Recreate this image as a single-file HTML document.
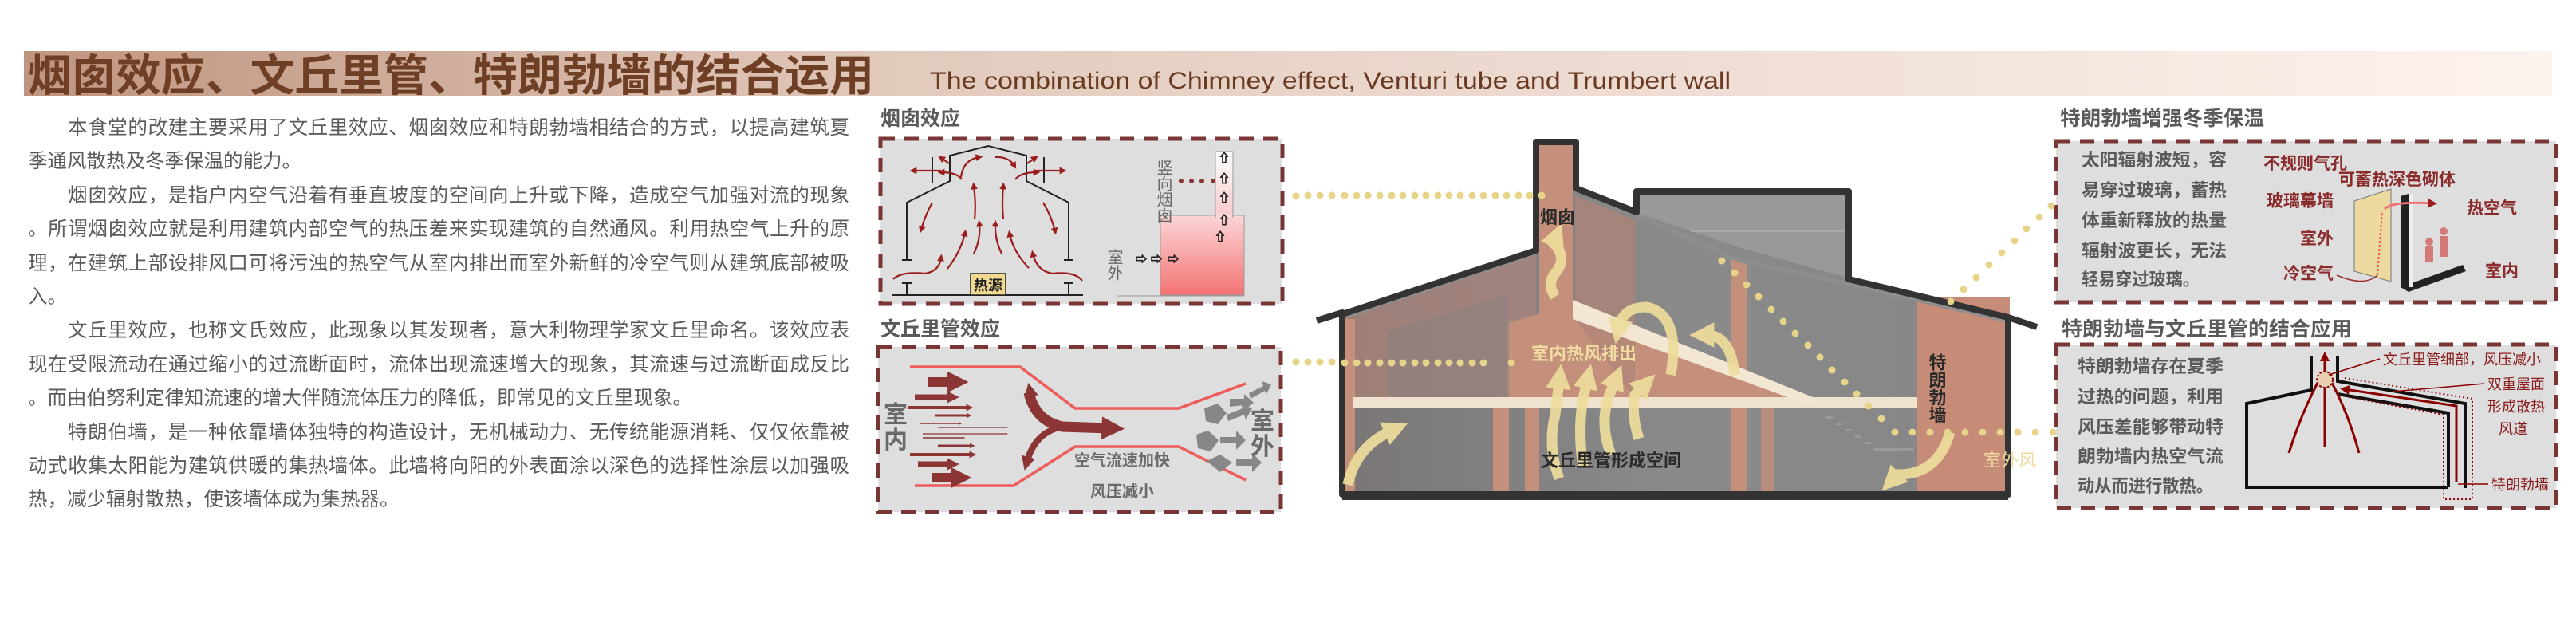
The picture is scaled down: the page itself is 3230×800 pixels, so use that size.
<!DOCTYPE html>
<html><head><meta charset="utf-8"><style>
html,body{margin:0;padding:0;background:#fff;}
#wrap{position:relative;width:3230px;height:800px;overflow:hidden;background:#fff;font-family:"Liberation Sans","Noto Sans CJK SC",sans-serif;}
svg{position:absolute;left:0;top:0;}
.para{position:absolute;left:35px;top:140px;width:1030px;font-size:24.5px;line-height:42.4px;color:#5a5a5a;font-family:"Liberation Sans","Noto Sans CJK SC",sans-serif;}
.para div{white-space:nowrap;overflow:hidden;text-align:justify;text-align-last:justify;}
.para div.s{text-align-last:left;}
.ind{padding-left:50px;}
</style></head><body><div id="wrap">
<svg width="3230" height="800" viewBox="0 0 3230 800" font-family="Liberation Sans, Noto Sans CJK SC, sans-serif">
<defs>
<linearGradient id="tb" x1="0" x2="1" y1="0" y2="0"><stop offset="0" stop-color="#c09580"/><stop offset="0.35" stop-color="#e2cabd"/><stop offset="1" stop-color="#fdf3ee"/></linearGradient>
<linearGradient id="pk" x1="0" x2="0" y1="0" y2="1"><stop offset="0" stop-color="#fbd6d8"/><stop offset="1" stop-color="#f47374"/></linearGradient>
<linearGradient id="pk2" x1="0" x2="0" y1="0" y2="1"><stop offset="0" stop-color="#ffffff"/><stop offset="1" stop-color="#f9c9cc"/></linearGradient>
<linearGradient id="gr" x1="0" x2="1" y1="0" y2="0"><stop offset="0" stop-color="#7a7676"/><stop offset="0.5" stop-color="#8a8a8a"/><stop offset="1" stop-color="#868686"/></linearGradient>
<marker id="mr" viewBox="0 0 10 10" refX="5" refY="5" markerWidth="4" markerHeight="4" orient="auto"><path d="M0,0 L10,5 L0,10 z" fill="#9b1c1c"/></marker>
<marker id="mm" viewBox="0 0 10 10" refX="3" refY="5" markerWidth="2.2" markerHeight="2.6" orient="auto"><path d="M0,0 L10,5 L0,10 z" fill="#8b3535"/></marker>
<marker id="my" viewBox="0 0 10 10" refX="3" refY="5" markerWidth="2.4" markerHeight="2.6" orient="auto"><path d="M0,0 L10,5 L0,10 z" fill="#eedd9c"/></marker>
<marker id="md" viewBox="0 0 10 10" refX="5" refY="5" markerWidth="4" markerHeight="4" orient="auto"><path d="M0,0 L10,5 L0,10 z" fill="#8b0000"/></marker>
</defs>

<!-- title bar -->
<rect x="30" y="64" width="3170" height="57" fill="url(#tb)"/>
<text x="34" y="114" font-size="55" font-weight="bold" fill="#6e3f24" textLength="1062" lengthAdjust="spacingAndGlyphs">烟囱效应、文丘里管、特朗勃墙的结合运用</text>
<text x="1166" y="111" font-size="30" fill="#6a3a20" textLength="1004" lengthAdjust="spacingAndGlyphs">The combination of Chimney effect, Venturi tube and Trumbert wall</text>

<!-- section labels -->
<g font-size="25" font-weight="bold" fill="#5a5a5a">
<text x="1104" y="157">烟囱效应</text>
<text x="1104" y="421">文丘里管效应</text>
<text x="2583" y="157" textLength="256" lengthAdjust="spacingAndGlyphs">特朗勃墙增强冬季保温</text>
<text x="2585" y="421" textLength="364" lengthAdjust="spacingAndGlyphs">特朗勃墙与文丘里管的结合应用</text>
</g>

<!-- boxes -->
<g fill="#dedede" stroke="#7a3535" stroke-width="5" stroke-dasharray="18,12">
<rect x="1104" y="174" width="504" height="207"/>
<rect x="1101" y="435" width="505" height="207"/>
<rect x="2578" y="177" width="627" height="202"/>
<rect x="2578" y="432" width="627" height="205"/>
</g>

<!-- chimney box diagram -->
<g stroke="#222" stroke-width="2" fill="none">
<polyline points="1137,326 1137,254 1191,227 1191,195 1239,183 1287,195 1287,227 1340,254 1340,326"/>
<line x1="1131" y1="326" x2="1143" y2="326"/><line x1="1334" y1="326" x2="1346" y2="326"/>
<line x1="1131" y1="355" x2="1143" y2="355"/><line x1="1137" y1="355" x2="1137" y2="370"/>
<line x1="1334" y1="355" x2="1346" y2="355"/><line x1="1340" y1="355" x2="1340" y2="370"/>
<line x1="1118" y1="370" x2="1358" y2="370"/>
<line x1="1169" y1="197" x2="1169" y2="230"/><line x1="1309" y1="197" x2="1309" y2="230"/>
</g>
<rect x="1217" y="343" width="44" height="27" fill="#f0d890" stroke="#222" stroke-width="1.5"/>
<text x="1239" y="364" font-size="18" font-weight="bold" text-anchor="middle" fill="#222">热源</text>
<g stroke="#9b1c1c" stroke-width="2.2" fill="none" marker-end="url(#mr)">
<path d="M1205,222 Q1208,200 1228,197"/>
<path d="M1247,197 Q1265,196 1272,208"/>
<path d="M1180,214 L1145,214"/><path d="M1298,214 L1333,214"/>
<path d="M1206,225 Q1200,216 1180,216"/><path d="M1273,225 Q1280,216 1300,216"/>
<path d="M1190,205 L1180,198"/><path d="M1288,205 L1298,198"/>
<path d="M1222,275 Q1224,255 1221,233"/><path d="M1258,275 Q1256,255 1258,233"/>
<path d="M1188,337 Q1205,315 1210,292"/><path d="M1221,318 Q1230,300 1228,280"/>
<path d="M1256,318 Q1247,300 1248,280"/><path d="M1290,336 Q1270,315 1266,293"/>
<path d="M1169,254 Q1160,270 1155,288"/><path d="M1308,254 Q1318,270 1323,290"/>
<path d="M1120,350 Q1130,340 1160,343 Q1178,340 1180,323"/>
<path d="M1357,352 Q1348,340 1320,343 Q1300,340 1295,318"/>
</g>
<rect x="1455" y="270" width="105" height="100" fill="url(#pk)" stroke="#999" stroke-width="1"/>
<rect x="1524" y="190" width="22" height="82" fill="url(#pk2)" stroke="#999" stroke-width="1"/>
<rect x="1525" y="268" width="20" height="6" fill="#fbd6d8"/>
<line x1="1400" y1="371" x2="1560" y2="371" stroke="#999" stroke-width="1"/>
<g font-size="20" fill="#666"><text x="1458" y="200" writing-mode="tb" letter-spacing="0">竖向烟囱</text><text x="1396" y="312" writing-mode="tb">室外</text></g>
<g fill="#8b3535"><circle cx="1481" cy="227" r="3"/><circle cx="1494" cy="227" r="3"/><circle cx="1507" cy="227" r="3"/><circle cx="1521" cy="227" r="3"/></g>
<g font-size="14" fill="#fff" stroke="#222" stroke-width="1" font-weight="bold">
<text x="1535" y="203" text-anchor="middle">⇧</text><text x="1535" y="229" text-anchor="middle">⇧</text><text x="1535" y="253" text-anchor="middle">⇧</text><text x="1535" y="281" text-anchor="middle">⇧</text><text x="1530" y="302" text-anchor="middle">⇧</text>
<text x="1431" y="330" text-anchor="middle">⇨</text><text x="1450" y="330" text-anchor="middle">⇨</text><text x="1471" y="330" text-anchor="middle">⇨</text>
</g>

<!-- venturi box -->
<g stroke="#ee5b5b" stroke-width="3.5" fill="none">
<polyline points="1141,460 1279,460 1348,512 1478,512 1562,481"/>
<polyline points="1147,609 1271,609 1348,560 1478,560 1562,602"/>
</g>
<g stroke="#8b3535" fill="none" marker-end="url(#mm)">
<path d="M1164,479 L1196,479" stroke-width="12"/>
<path d="M1147,498 L1192,498" stroke-width="7"/>
<path d="M1139,511 L1214,511" stroke-width="4"/>
<path d="M1172,521 L1214,521" stroke-width="3"/>
<path d="M1153,531 L1204,531" stroke-width="1.5"/>
<path d="M1176,536 L1262,536" stroke-width="1.2"/>
<path d="M1157,544 L1262,544" stroke-width="1.2"/>
<path d="M1157,549 L1208,549" stroke-width="1.5"/>
<path d="M1176,559 L1218,559" stroke-width="3"/>
<path d="M1141,570 L1218,570" stroke-width="4"/>
<path d="M1151,582 L1192,582" stroke-width="7"/>
<path d="M1168,599 L1200,599" stroke-width="12"/>
</g>
<g stroke="#8b3535" fill="none" stroke-width="8">
<path d="M1290,492 Q1298,528 1332,535 L1390,537" marker-end="url(#mm)" stroke-width="13"/>
<path d="M1332,535 Q1298,542 1288,578" marker-end="url(#mm)"/>
<path d="M1332,535 Q1300,528 1292,492" marker-end="url(#mm)"/>
</g>
<g fill="#878787">
<polygon points="1510,512 1527,506 1538,518 1527,532 1512,528"/>
<polygon points="1500,545 1515,540 1528,552 1518,566 1502,562"/>
<polygon points="1513,578 1530,570 1545,580 1530,592"/>
<polygon points="1542,500 1560,500 1560,494 1572,505 1560,514 1560,508 1542,510"/>
<polygon points="1538,520 1558,512 1556,506 1570,512 1562,526 1560,520 1540,528"/>
<polygon points="1530,548 1550,548 1550,540 1562,552 1550,564 1550,556 1530,556"/>
<polygon points="1550,575 1570,575 1570,568 1582,580 1570,592 1570,584 1550,584"/>
<polygon points="1566,493 1584,484 1582,478 1594,482 1588,494 1586,490 1568,500"/>
</g>
<g font-size="30" fill="#6a6a6a" font-weight="bold"><text x="1108" y="530">室</text><text x="1108" y="562">内</text><text x="1568" y="538">室</text><text x="1568" y="570">外</text></g>
<g font-size="20" fill="#6a6a6a" font-weight="bold" text-anchor="middle"><text x="1407" y="584">空气流速加快</text><text x="1407" y="623">风压减小</text></g>

<!-- central building -->
<polygon points="1683,400 1926,318 1926,178 1975,178 1975,238 2052,270 2052,240 2318,240 2318,352 2518,400 2518,620 1683,620" fill="url(#gr)"/>
<polygon points="2055,244 2316,244 2316,348 2180,310 2055,268" fill="#999"/>
<line x1="2120" y1="290" x2="2316" y2="290" stroke="#aaa" stroke-width="2"/>
<polygon points="1683,400 1926,318 1926,500 1683,500" fill="#b9877a" opacity="0.55"/>
<polygon points="1740,415 1890,370 1890,500 1740,500" fill="#8a8080" opacity="0.6"/>
<rect x="1683" y="400" width="16" height="220" fill="#c4907c"/>
<rect x="1930" y="178" width="42" height="220" fill="#c4907c"/>
<polygon points="1892,405 1925,395 1972,378 2265,502 1892,502" fill="#c4907c"/>
<polygon points="1975,245 2050,275 2050,500 1975,400" fill="#b08578" opacity="0.7"/>
<rect x="2170" y="325" width="20" height="295" fill="#c4907c"/>
<rect x="2208" y="502" width="16" height="118" fill="#c4907c" opacity="0.8"/>
<rect x="2404" y="372" width="116" height="248" fill="#c68c78"/>
<rect x="1872" y="510" width="20" height="110" fill="#c4907c"/>
<rect x="1912" y="510" width="18" height="110" fill="#c4907c"/>
<g fill="#9a9a9a"><rect x="2290" y="522" width="8" height="3"/><rect x="2302" y="530" width="8" height="3"/><rect x="2314" y="538" width="8" height="3"/><rect x="2326" y="546" width="8" height="3"/><rect x="2338" y="554" width="8" height="3"/><rect x="2350" y="562" width="50" height="3"/></g>
<rect x="1697" y="498" width="707" height="14" fill="#efe2cf"/>
<polygon points="1972,376 1972,400 2258,504 2288,504" fill="#f3e6d3"/>
<polyline points="1683,398 1926,317" stroke="#8e8e8e" stroke-width="5" fill="none"/>
<polyline points="1978,238 2180,326 2318,356 2518,402" stroke="#8e8e8e" stroke-width="6" fill="none"/>
<path d="M1651,402 L1683,392 L1683,620 L2518,620 L2518,398 L2554,410 M2518,398 L2318,350 L2318,240 L2052,240 L2052,266 L1976,236 L1976,178 L1926,178 L1926,314 L1683,394" stroke="#333" stroke-width="8" fill="none" stroke-linejoin="round"/>
<line x1="1683" y1="624" x2="2518" y2="624" stroke="#333" stroke-width="6"/>
<!-- yellow arrows -->
<g stroke="#eedd9c" fill="none" stroke-width="13" opacity="0.92" marker-end="url(#my)">
<path d="M1950,372 Q1938,355 1952,340 Q1965,322 1948,305 L1950,300"/>
<path d="M1955,600 Q1940,560 1950,520 L1955,478"/>
<path d="M1985,585 Q1978,540 1985,500 L1990,478"/>
<path d="M2020,570 Q2005,530 2018,495 L2025,478"/>
<path d="M2055,550 Q2045,520 2050,495 L2060,485"/>
<path d="M2095,470 Q2108,395 2065,385 Q2035,385 2030,410"/>
<path d="M2175,470 Q2170,420 2140,420"/>
<path d="M1690,608 Q1700,560 1745,540"/>
<path d="M2445,542 Q2430,595 2380,595 L2375,600"/>
</g>
<!-- dotted connectors -->
<g fill="#e6d48a">
<circle cx="1625" cy="246" r="4.5"/><circle cx="1640" cy="245" r="4.5"/><circle cx="1655" cy="245" r="4.5"/><circle cx="1670" cy="245" r="4.5"/><circle cx="1686" cy="245" r="4.5"/><circle cx="1701" cy="245" r="4.5"/><circle cx="1715" cy="245" r="4.5"/><circle cx="1730" cy="245" r="4.5"/><circle cx="1745" cy="245" r="4.5"/><circle cx="1759" cy="245" r="4.5"/><circle cx="1774" cy="245" r="4.5"/><circle cx="1788" cy="245" r="4.5"/><circle cx="1803" cy="245" r="4.5"/><circle cx="1817" cy="245" r="4.5"/><circle cx="1831" cy="245" r="4.5"/><circle cx="1846" cy="245" r="4.5"/><circle cx="1860" cy="245" r="4.5"/><circle cx="1875" cy="245" r="4.5"/><circle cx="1889" cy="245" r="4.5"/><circle cx="1904" cy="245" r="4.5"/><circle cx="1918" cy="245" r="4.5"/><circle cx="1933" cy="245" r="4.5"/>
<circle cx="1625" cy="454" r="4.5"/><circle cx="1640" cy="454" r="4.5"/><circle cx="1655" cy="454" r="4.5"/><circle cx="1670" cy="454" r="4.5"/><circle cx="1686" cy="455" r="4.5"/><circle cx="1701" cy="455" r="4.5"/><circle cx="1715" cy="455" r="4.5"/><circle cx="1730" cy="455" r="4.5"/><circle cx="1745" cy="455" r="4.5"/><circle cx="1759" cy="455" r="4.5"/><circle cx="1774" cy="455" r="4.5"/><circle cx="1788" cy="455" r="4.5"/><circle cx="1803" cy="455" r="4.5"/><circle cx="1817" cy="455" r="4.5"/><circle cx="1831" cy="455" r="4.5"/><circle cx="1846" cy="455" r="4.5"/><circle cx="1860" cy="455" r="4.5"/><circle cx="1895" cy="455" r="4.5"/>
<circle cx="2159" cy="327" r="4.5"/><circle cx="2175" cy="342" r="4.5"/><circle cx="2190" cy="357" r="4.5"/><circle cx="2205" cy="372" r="4.5"/><circle cx="2221" cy="388" r="4.5"/><circle cx="2236" cy="403" r="4.5"/><circle cx="2251" cy="418" r="4.5"/><circle cx="2267" cy="433" r="4.5"/><circle cx="2282" cy="448" r="4.5"/><circle cx="2297" cy="464" r="4.5"/><circle cx="2313" cy="479" r="4.5"/><circle cx="2328" cy="494" r="4.5"/><circle cx="2343" cy="509" r="4.5"/><circle cx="2359" cy="525" r="4.5"/><circle cx="2376" cy="542" r="4.5"/>
<circle cx="2398" cy="542" r="4.5"/><circle cx="2420" cy="542" r="4.5"/><circle cx="2442" cy="542" r="4.5"/><circle cx="2464" cy="542" r="4.5"/><circle cx="2486" cy="542" r="4.5"/><circle cx="2508" cy="542" r="4.5"/><circle cx="2530" cy="542" r="4.5"/><circle cx="2552" cy="542" r="4.5"/><circle cx="2574" cy="542" r="4.5"/>
<circle cx="2572" cy="258" r="4.5"/><circle cx="2557" cy="272" r="4.5"/><circle cx="2541" cy="287" r="4.5"/><circle cx="2526" cy="302" r="4.5"/><circle cx="2510" cy="317" r="4.5"/><circle cx="2494" cy="332" r="4.5"/><circle cx="2478" cy="348" r="4.5"/><circle cx="2462" cy="363" r="4.5"/><circle cx="2446" cy="378" r="4.5"/>
</g>
<g font-size="22" font-weight="bold">
<text x="1931" y="280" fill="#2a2a2a">烟囱</text>
<text x="1920" y="451" fill="#f0dca0">室内热风排出</text>
<text x="1932" y="585" fill="#2a2a2a">文丘里管形成空间</text>
<text x="2487" y="585" fill="#f0dca0" font-weight="normal">室外风</text>
<text x="2428" y="443" fill="#2a2a2a" writing-mode="tb">特朗勃墙</text>
</g>

<!-- right top box -->
<g font-size="22" fill="#5a5a5a" font-weight="bold">
<text x="2610" y="208" textLength="182" lengthAdjust="spacingAndGlyphs">太阳辐射波短，容</text>
<text x="2610" y="246" textLength="182" lengthAdjust="spacingAndGlyphs">易穿过玻璃，蓄热</text>
<text x="2610" y="284" textLength="182" lengthAdjust="spacingAndGlyphs">体重新释放的热量</text>
<text x="2610" y="322" textLength="182" lengthAdjust="spacingAndGlyphs">辐射波更长，无法</text>
<text x="2610" y="358" textLength="148" lengthAdjust="spacingAndGlyphs">轻易穿过玻璃。</text>
</g>
<polygon points="2952,252 2998,237 2998,353 2952,340" fill="#ecd9a0" stroke="#777" stroke-width="1"/>
<polygon points="3010,246 3020,243 3020,362 3010,360" fill="#222"/>
<polygon points="3010,360 3088,332 3092,340 3020,366" fill="#222"/>
<rect x="3020" y="245" width="6" height="115" fill="#eee"/>
<line x1="2981" y1="345" x2="2987" y2="265" stroke="#e55" stroke-width="2" stroke-dasharray="3,2"/>
<path d="M2990,262 Q3000,252 3050,255" stroke="#f07070" stroke-width="3" fill="none" marker-end="url(#mr)"/>
<path d="M2930,345 Q2965,360 2981,345" stroke="#9b3030" stroke-width="1.5" fill="none"/>
<g fill="#d47a7a"><circle cx="3046" cy="303" r="5"/><rect x="3041" y="309" width="10" height="20"/><circle cx="3064" cy="290" r="5"/><rect x="3059" y="296" width="10" height="26"/></g>
<g font-size="21" fill="#8b2c2c" font-weight="bold">
<text x="2838" y="212">不规则气孔</text>
<text x="2932" y="232">可蓄热深色砌体</text>
<text x="2842" y="259">玻璃幕墙</text>
<text x="3093" y="268">热空气</text>
<text x="2884" y="306">室外</text>
<text x="2863" y="350">冷空气</text>
<text x="3116" y="347">室内</text>
</g>

<!-- right bottom box -->
<g font-size="22" fill="#5a5a5a" font-weight="bold">
<text x="2605" y="467" textLength="183" lengthAdjust="spacingAndGlyphs">特朗勃墙存在夏季</text>
<text x="2605" y="505" textLength="183" lengthAdjust="spacingAndGlyphs">过热的问题，利用</text>
<text x="2605" y="543" textLength="183" lengthAdjust="spacingAndGlyphs">风压差能够带动特</text>
<text x="2605" y="580" textLength="183" lengthAdjust="spacingAndGlyphs">朗勃墙内热空气流</text>
<text x="2605" y="617" textLength="170" lengthAdjust="spacingAndGlyphs">动从而进行散热。</text>
</g>
<g stroke="#111" stroke-width="4" fill="none">
<polyline points="2898,446 2898,489 2817,506 2817,611 3070,611"/>
<polyline points="2931,446 2931,478 3091,506 3091,612"/>
<polyline points="2931,494 3070,518 3070,611"/>
</g>
<g stroke="#8b0000" stroke-width="3" fill="none">
<path d="M2915,560 L2915,447" marker-end="url(#md)"/>
<path d="M2870,568 Q2885,520 2906,480"/><path d="M2958,568 Q2945,520 2924,480"/>
<path d="M3080,604 L3080,509 L2940,488" marker-end="url(#md)"/>
</g>
<circle cx="2915" cy="476" r="10" fill="#e8d0b0" stroke="#8b0000" stroke-width="2" stroke-dasharray="3,2"/>
<polyline points="2940,474 3100,500 3100,626 3064,626 3064,520 2945,498" stroke="#8b0000" stroke-width="2" stroke-dasharray="2,3" fill="none"/>
<g stroke="#8b0000" stroke-width="1.5"><line x1="2920" y1="470" x2="2984" y2="450"/><line x1="3000" y1="491" x2="3115" y2="481"/><line x1="3082" y1="607" x2="3120" y2="607"/></g>
<g font-size="18" fill="#8b1a1a">
<text x="2988" y="457">文丘里管细部，风压减小</text>
<text x="3119" y="488">双重屋面</text>
<text x="3119" y="516">形成散热</text>
<text x="3133" y="544">风道</text>
<text x="3124" y="614">特朗勃墙</text>
</g>
</svg>

<div class="para">
<div class="ind">本食堂的改建主要采用了文丘里效应、烟囱效应和特朗勃墙相结合的方式，以提高建筑夏</div>
<div class="s">季通风散热及冬季保温的能力。</div>
<div class="ind">烟囱效应，是指户内空气沿着有垂直坡度的空间向上升或下降，造成空气加强对流的现象</div>
<div>。所谓烟囱效应就是利用建筑内部空气的热压差来实现建筑的自然通风。利用热空气上升的原</div>
<div>理，在建筑上部设排风口可将污浊的热空气从室内排出而室外新鲜的冷空气则从建筑底部被吸</div>
<div class="s">入。</div>
<div class="ind">文丘里效应，也称文氏效应，此现象以其发现者，意大利物理学家文丘里命名。该效应表</div>
<div>现在受限流动在通过缩小的过流断面时，流体出现流速增大的现象，其流速与过流断面成反比</div>
<div class="s">。而由伯努利定律知流速的增大伴随流体压力的降低，即常见的文丘里现象。</div>
<div class="ind">特朗伯墙，是一种依靠墙体独特的构造设计，无机械动力、无传统能源消耗、仅仅依靠被</div>
<div>动式收集太阳能为建筑供暖的集热墙体。此墙将向阳的外表面涂以深色的选择性涂层以加强吸</div>
<div class="s">热，减少辐射散热，使该墙体成为集热器。</div>
</div>
</div></body></html>
